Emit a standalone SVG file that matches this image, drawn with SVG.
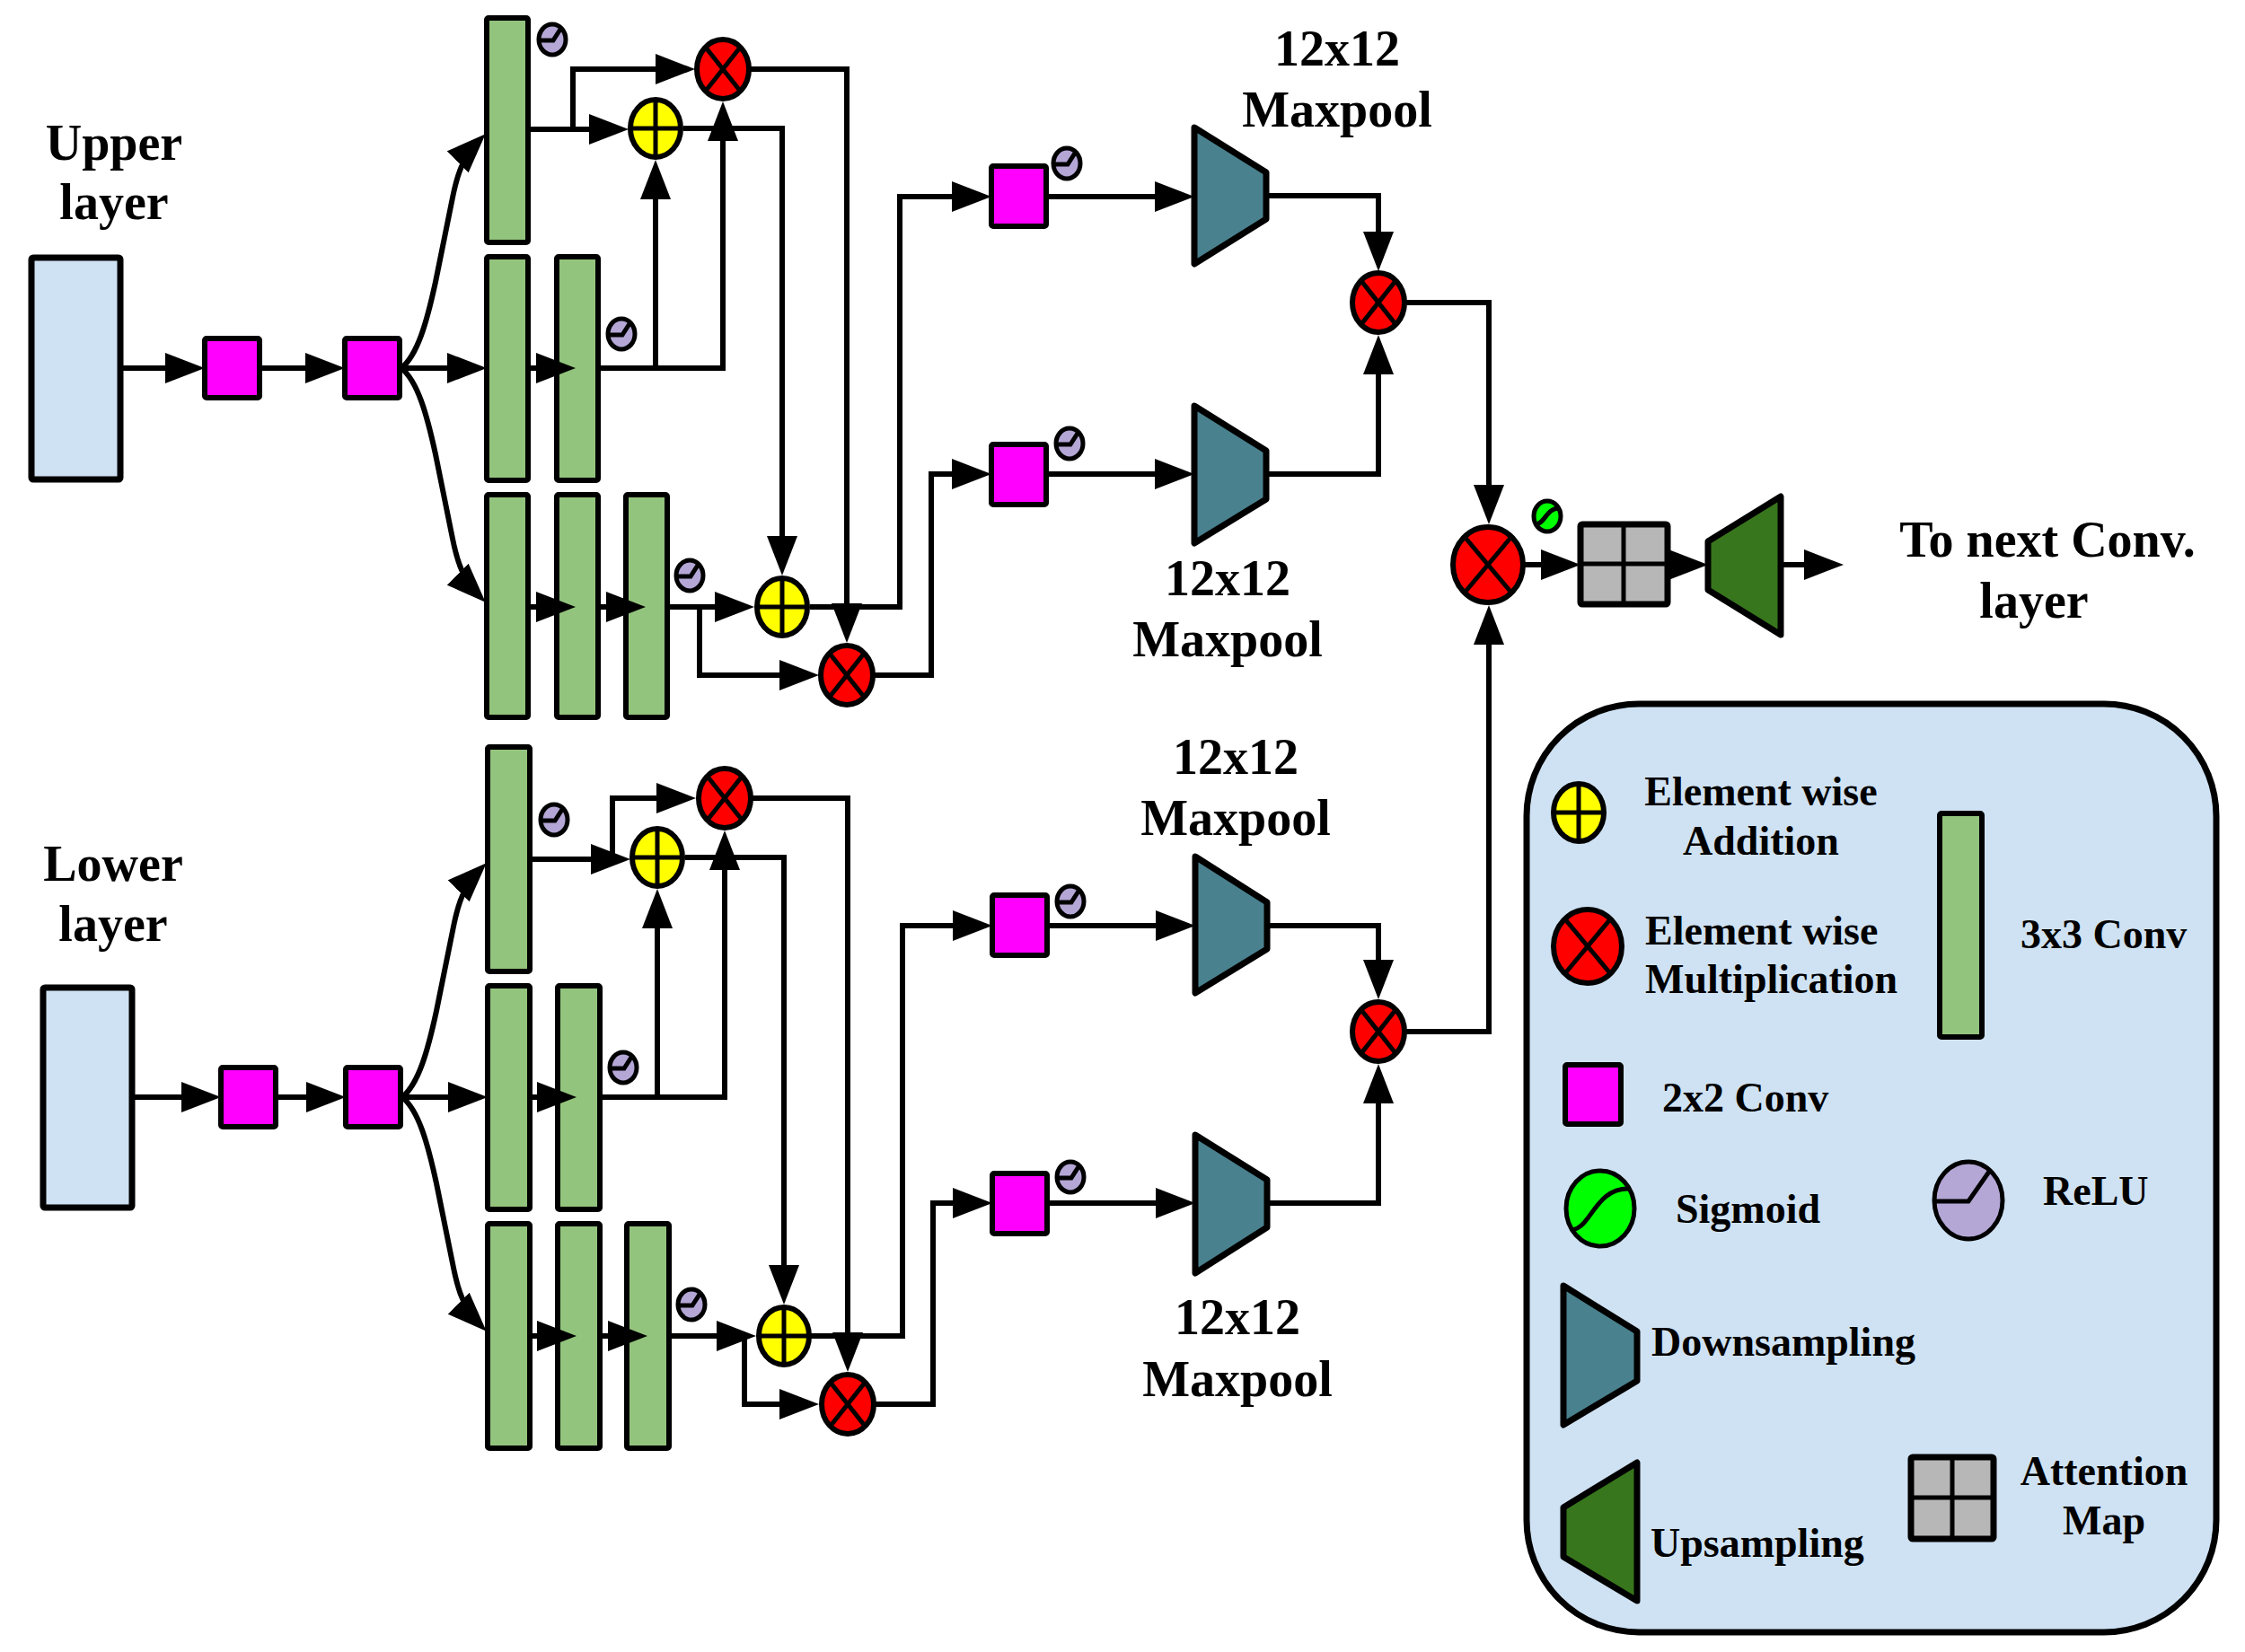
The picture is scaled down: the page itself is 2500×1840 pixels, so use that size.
<svg xmlns="http://www.w3.org/2000/svg" width="2500" height="1840" viewBox="0 0 2500 1840">
<style>
text{font-family:"Liberation Serif","Times New Roman",serif;font-weight:bold;fill:#000}
.t56{font-size:56px}
.t46{font-size:46px}
.mid{text-anchor:middle}
.ln{fill:none;stroke:#000;stroke-width:6;stroke-linejoin:miter}
.a{marker-end:url(#ah)}
.blue{fill:#cfe2f3;stroke:#000;stroke-width:7}
.pink{fill:#ff00ff;stroke:#000;stroke-width:6}
.bar{fill:#93c47d;stroke:#000;stroke-width:6}
.add{fill:#ffff00;stroke:#000;stroke-width:6}
.mul{fill:#ff0000;stroke:#000;stroke-width:6}
.x{fill:none;stroke:#000;stroke-width:5}
.relu{fill:#b4a7d6;stroke:#000;stroke-width:5}
.sig{fill:#00ff00;stroke:#000;stroke-width:5}
.down{fill:#4a818e;stroke:#000;stroke-width:7;stroke-linejoin:round}
.up{fill:#38761d;stroke:#000;stroke-width:7;stroke-linejoin:round}
.grid{fill:#b7b7b7;stroke:#000;stroke-width:7}
.legend{fill:#cfe2f3;stroke:#000;stroke-width:7}
</style>
<defs>
<marker id="ah" markerUnits="userSpaceOnUse" markerWidth="44" markerHeight="34" viewBox="0 0 44 34" refX="36" refY="17" orient="auto">
<path d="M0,0 L44,17 L0,34 z" fill="#000"/>
</marker>
<g id="reluS"><ellipse class="relu" rx="15" ry="17"/><path class="x" stroke-width="4" d="M-15,1 L1,1 L10,-13"/></g>
<g id="sigS"><ellipse class="sig" rx="15" ry="17"/><path class="x" stroke-width="4" d="M-13,9 C-3,9 -1,-9 13,-9"/></g>
<g id="addS"><ellipse class="add" rx="28" ry="32"/><path class="x" d="M0,-32V32M-28,0H28"/></g>
<g id="mulS"><ellipse class="mul" rx="29" ry="33"/><path class="x" d="M-19,-24L19,24M19,-24L-19,24"/></g>
</defs>

<!-- ===== Upper branch ===== -->
<g id="upper-label"><text class="t56 mid" x="127" y="178">Upper</text><text class="t56 mid" x="127" y="244">layer</text></g>
<g id="upper-input"><rect class="blue" x="35" y="287" width="99" height="247" rx="2"/></g>
<g id="u-conv2a"><rect class="pink" x="228" y="377" width="61" height="66" rx="2"/></g>
<g id="u-conv2b"><rect class="pink" x="384" y="377" width="61" height="66" rx="2"/></g>
<g id="u-bar-r1c1"><rect class="bar" x="542" y="20" width="46" height="250" rx="2"/></g>
<g id="u-bar-r2c1"><rect class="bar" x="542" y="286" width="46" height="249" rx="2"/></g>
<g id="u-bar-r2c2"><rect class="bar" x="620" y="286" width="46" height="249" rx="2"/></g>
<g id="u-bar-r3c1"><rect class="bar" x="542" y="551" width="46" height="248" rx="2"/></g>
<g id="u-bar-r3c2"><rect class="bar" x="620" y="551" width="46" height="248" rx="2"/></g>
<g id="u-bar-r3c3"><rect class="bar" x="697" y="551" width="46" height="248" rx="2"/></g>
<g id="u-relu1"><use href="#reluS" x="615" y="44"/></g>
<g id="u-relu2"><use href="#reluS" x="692" y="372"/></g>
<g id="u-relu3"><use href="#reluS" x="768" y="641"/></g>
<g id="u-add1"><use href="#addS" x="730" y="143"/></g>
<g id="u-mul1"><use href="#mulS" x="805" y="77"/></g>
<g id="u-add2"><use href="#addS" x="871" y="676"/></g>
<g id="u-mul2"><use href="#mulS" x="943" y="752"/></g>
<g id="u-conv2c"><rect class="pink" x="1104" y="185" width="61" height="67" rx="2"/><use href="#reluS" x="1188" y="182"/></g>
<g id="u-conv2d"><rect class="pink" x="1104" y="495" width="61" height="67" rx="2"/><use href="#reluS" x="1191" y="494"/></g>
<g id="u-down1"><polygon class="down" points="1330,142 1410,192 1410,244 1330,294"/></g>
<g id="u-down2"><polygon class="down" points="1330,452 1410,502 1410,556 1330,605"/></g>
<g id="u-pool-label1"><text class="t56 mid" x="1489" y="73">12x12</text><text class="t56 mid" x="1489" y="141">Maxpool</text></g>
<g id="u-pool-label2"><text class="t56 mid" x="1367" y="663">12x12</text><text class="t56 mid" x="1367" y="731">Maxpool</text></g>
<g id="u-mul3"><use href="#mulS" x="1535" y="337"/></g>

<!-- ===== Lower branch ===== -->
<g id="lower-label"><text class="t56 mid" x="126" y="981">Lower</text><text class="t56 mid" x="126" y="1048">layer</text></g>
<g id="lower-input"><rect class="blue" x="48" y="1100" width="99" height="245" rx="2"/></g>
<g id="l-conv2a"><rect class="pink" x="246" y="1189" width="61" height="66" rx="2"/></g>
<g id="l-conv2b"><rect class="pink" x="385" y="1189" width="61" height="66" rx="2"/></g>
<g id="l-bar-r1c1"><rect class="bar" x="543" y="832" width="47" height="250" rx="2"/></g>
<g id="l-bar-r2c1"><rect class="bar" x="543" y="1098" width="47" height="249" rx="2"/></g>
<g id="l-bar-r2c2"><rect class="bar" x="621" y="1098" width="47" height="249" rx="2"/></g>
<g id="l-bar-r3c1"><rect class="bar" x="543" y="1363" width="47" height="250" rx="2"/></g>
<g id="l-bar-r3c2"><rect class="bar" x="621" y="1363" width="47" height="250" rx="2"/></g>
<g id="l-bar-r3c3"><rect class="bar" x="698" y="1363" width="47" height="250" rx="2"/></g>
<g id="l-relu1"><use href="#reluS" x="617" y="913"/></g>
<g id="l-relu2"><use href="#reluS" x="694" y="1189"/></g>
<g id="l-relu3"><use href="#reluS" x="770" y="1453"/></g>
<g id="l-add1"><use href="#addS" x="732" y="955"/></g>
<g id="l-mul1"><use href="#mulS" x="807" y="889"/></g>
<g id="l-add2"><use href="#addS" x="873" y="1488"/></g>
<g id="l-mul2"><use href="#mulS" x="944" y="1564"/></g>
<g id="l-conv2c"><rect class="pink" x="1105" y="997" width="61" height="67" rx="2"/><use href="#reluS" x="1192" y="1004"/></g>
<g id="l-conv2d"><rect class="pink" x="1105" y="1307" width="61" height="67" rx="2"/><use href="#reluS" x="1192" y="1311"/></g>
<g id="l-down1"><polygon class="down" points="1331,954 1411,1005 1411,1057 1331,1106"/></g>
<g id="l-down2"><polygon class="down" points="1331,1264 1411,1314 1411,1367 1331,1418"/></g>
<g id="l-pool-label1"><text class="t56 mid" x="1376" y="862">12x12</text><text class="t56 mid" x="1376" y="930">Maxpool</text></g>
<g id="l-pool-label2"><text class="t56 mid" x="1378" y="1486">12x12</text><text class="t56 mid" x="1378" y="1555">Maxpool</text></g>
<g id="l-mul3"><use href="#mulS" x="1535" y="1149"/></g>

<!-- ===== Fusion ===== -->
<g id="final-mul"><ellipse class="mul" cx="1657" cy="629" rx="39" ry="42"/><path class="x" d="M1631,598L1683,660M1683,598L1631,660"/></g>
<g id="final-sig"><use href="#sigS" x="1723" y="575"/></g>
<g id="attention-map"><rect class="grid" x="1760" y="584" width="97" height="89" rx="2"/><path class="x" stroke-width="7" d="M1808,584V673M1760,628H1857"/></g>
<g id="upsample"><polygon class="up" points="1902,603 1983,553 1983,707 1902,657"/></g>
<g id="out-label"><text class="t56 mid" x="2280" y="620">To next Conv.</text><text class="t56 mid" x="2265" y="688">layer</text></g>

<!-- ===== Connectors ===== -->
<g id="connectors" class="ln">
<path class="a" d="M134,410 H220"/>
<path class="a" d="M289,410 H376"/>
<path class="a" d="M445,410 H534"/>
<path class="a" d="M447,410 C465,395 475,360 485,314 L504,220 C509,195 515,175 535,155"/>
<path class="a" d="M447,410 C465,425 475,460 485,506 L504,600 C509,625 515,645 535,665"/>
<path class="a" d="M588,410 H633"/>
<path class="a" d="M588,676 H633"/>
<path class="a" d="M666,676 H711"/>
<path class="a" d="M588,144 H692"/>
<path class="a" d="M638,144 V77 H766"/>
<path class="a" d="M666,410 H805 V121"/>
<path class="a" d="M730,410 V186"/>
<path class="a" d="M761,143 H871 V633"/>
<path class="a" d="M835,77 H943 V708"/>
<path class="a" d="M743,676 H832"/>
<path class="a" d="M779,676 V752 H904"/>
<path class="a" d="M902,676 H1002 V219 H1096"/>
<path class="a" d="M973,752 H1037 V528 H1096"/>
<path class="a" d="M1165,219 H1322"/>
<path class="a" d="M1165,528 H1322"/>
<path class="a" d="M1410,218 H1535 V294"/>
<path class="a" d="M1410,528 H1535 V381"/>
<path class="a" d="M1565,337 H1658 V576"/>

<path class="a" d="M147,1222 H238"/>
<path class="a" d="M307,1222 H377"/>
<path class="a" d="M446,1222 H535"/>
<path class="a" d="M448,1222 C466,1207 476,1172 486,1126 L505,1032 C510,1007 516,987 536,967"/>
<path class="a" d="M448,1222 C466,1237 476,1272 486,1318 L505,1412 C510,1437 516,1457 536,1477"/>
<path class="a" d="M590,1222 H634"/>
<path class="a" d="M590,1488 H634"/>
<path class="a" d="M668,1488 H713"/>
<path class="a" d="M590,957 H694"/>
<path class="a" d="M682,957 V889 H767"/>
<path class="a" d="M668,1222 H807 V933"/>
<path class="a" d="M732,1222 V998"/>
<path class="a" d="M763,955 H873 V1445"/>
<path class="a" d="M838,889 H944 V1520"/>
<path class="a" d="M745,1488 H834"/>
<path class="a" d="M829,1488 V1564 H904"/>
<path class="a" d="M903,1488 H1005 V1031 H1097"/>
<path class="a" d="M975,1564 H1039 V1340 H1097"/>
<path class="a" d="M1166,1031 H1323"/>
<path class="a" d="M1166,1340 H1323"/>
<path class="a" d="M1411,1031 H1535 V1105"/>
<path class="a" d="M1411,1340 H1535 V1193"/>
<path class="a" d="M1566,1149 H1658 V682"/>

<path class="a" d="M1698,629 H1752"/>
<path class="a" d="M1857,629 H1894"/>
<path class="a" d="M1983,629 H2045"/>
</g>

<!-- ===== Legend ===== -->
<g id="legend">
<rect class="legend" x="1700" y="784" width="768" height="1034" rx="125" ry="125"/>
<g id="lg-add"><ellipse class="add" cx="1758" cy="905" rx="28" ry="32"/><path class="x" d="M1758,873V937M1730,905H1786"/>
<text class="t46 mid" x="1961" y="897">Element wise</text><text class="t46 mid" x="1961" y="952">Addition</text></g>
<g id="lg-mul"><ellipse class="mul" cx="1768" cy="1054" rx="38" ry="41"/><path class="x" d="M1743,1024L1793,1084M1793,1024L1743,1084"/>
<text class="t46" x="1832" y="1052">Element wise</text><text class="t46" x="1832" y="1106">Multiplication</text></g>
<g id="lg-conv3"><rect class="bar" x="2160" y="906" width="47" height="249" rx="2"/><text class="t46" x="2250" y="1056">3x3 Conv</text></g>
<g id="lg-conv2"><rect class="pink" x="1743" y="1186" width="62" height="66" rx="2"/><text class="t46" x="1851" y="1238">2x2 Conv</text></g>
<g id="lg-sig"><ellipse class="sig" cx="1782" cy="1346" rx="38" ry="42" stroke-width="6"/><path class="x" stroke-width="6" d="M1750,1370 C1772,1368 1776,1324 1813,1324"/><text class="t46" x="1866" y="1362">Sigmoid</text></g>
<g id="lg-relu"><ellipse class="relu" cx="2192" cy="1337" rx="38" ry="43" stroke-width="6"/><path class="x" stroke-width="6" d="M2154,1338 L2192,1338 L2215,1305"/><text class="t46" x="2275" y="1342">ReLU</text></g>
<g id="lg-down"><polygon class="down" points="1741,1432 1823,1483 1823,1538 1741,1587"/><text class="t46" x="1839" y="1510">Downsampling</text></g>
<g id="lg-up"><polygon class="up" points="1741,1679 1823,1629 1823,1783 1741,1734"/><text class="t46" x="1838" y="1734">Upsampling</text></g>
<g id="lg-att"><rect class="grid" x="2128" y="1623" width="92" height="91" rx="2"/><path class="x" stroke-width="7" d="M2174,1623V1714M2128,1668H2220"/><text class="t46 mid" x="2343" y="1654">Attention</text><text class="t46 mid" x="2343" y="1709">Map</text></g>
</g>
</svg>
